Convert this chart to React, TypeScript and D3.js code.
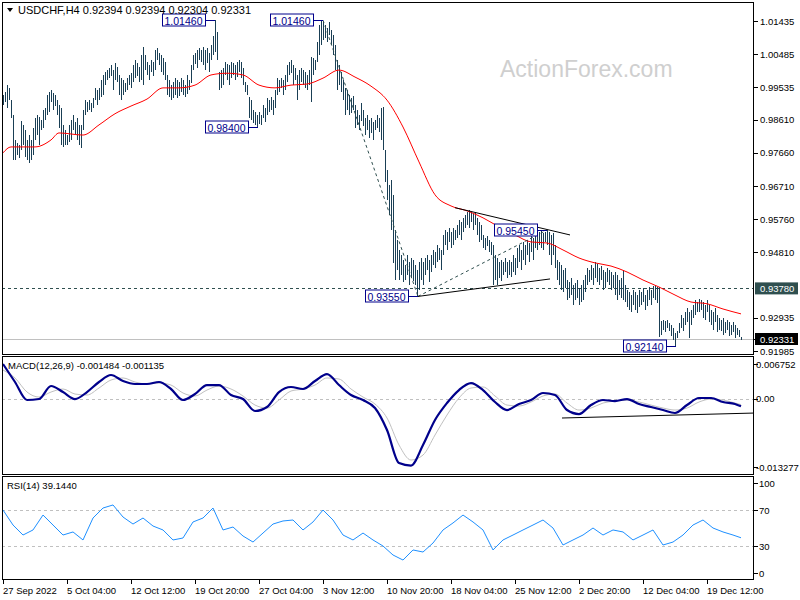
import React from "react";
import * as d3 from "d3";

// ---------- DATA ----------
const symbolTitle = "USDCHF,H4";
const lastOHLC = [0.92394, 0.92394, 0.92304, 0.92331];

// H4 bar highs / lows (370 bars, oldest first)
const highs = [
  0.9932, 0.9940, 0.9960, 0.9952, 0.9917, 0.9875, 0.9803, 0.9795, 0.9789, 0.9857,
  0.9846, 0.9832, 0.9803, 0.9817, 0.9803, 0.9838, 0.9866, 0.9875, 0.9869, 0.9860,
  0.9889, 0.9894, 0.9932, 0.9940, 0.9946, 0.9937, 0.9932, 0.9917, 0.9903, 0.9894,
  0.9846, 0.9832, 0.9817, 0.9846, 0.9860, 0.9875, 0.9855, 0.9866, 0.9846, 0.9846,
  0.9889, 0.9917, 0.9911, 0.9917, 0.9909, 0.9923, 0.9952, 0.9946, 0.9952, 0.9975,
  0.9989, 0.9997, 1.0003, 1.0009, 1.0018, 1.0003, 1.0023, 1.0012, 0.9989, 0.9980,
  0.9975, 0.9966, 0.9980, 0.9989, 0.9994, 1.0018, 1.0032, 1.0023, 1.0012, 1.0046,
  1.0069, 1.0046, 1.0026, 1.0018, 1.0032, 1.0026, 1.0061, 1.0066, 1.0052, 1.0046,
  1.0038, 1.0026, 0.9989, 0.9975, 0.9960, 0.9969, 0.9980, 0.9975, 0.9969, 0.9980,
  0.9975, 0.9960, 0.9989, 0.9975, 1.0018, 1.0046, 1.0052, 1.0061, 1.0066, 1.0061,
  1.0069, 1.0061, 1.0066, 1.0052, 1.0075, 1.0100, 1.0146, 1.0112, 0.9997, 1.0003,
  1.0009, 1.0026, 1.0021, 1.0018, 1.0026, 1.0023, 1.0018, 1.0026, 1.0032, 1.0026,
  1.0009, 0.9969, 0.9960, 0.9926, 0.9917, 0.9889, 0.9883, 0.9875, 0.9883, 0.9875,
  0.9903, 0.9894, 0.9923, 0.9917, 0.9926, 0.9917, 0.9946, 0.9980, 0.9975, 0.9980,
  0.9975, 0.9989, 1.0018, 1.0026, 1.0032, 1.0018, 1.0009, 0.9989, 1.0003, 1.0009,
  1.0003, 0.9997, 0.9989, 1.0003, 1.0040, 1.0038, 1.0032, 1.0083, 1.0132, 1.0146,
  1.0140, 1.0132, 1.0123, 1.0140, 1.0118, 1.0103, 1.0075, 1.0032, 1.0018, 0.9997,
  0.9975, 0.9952, 0.9946, 0.9932, 0.9923, 0.9929, 0.9903, 0.9889, 0.9875, 0.9909,
  0.9889, 0.9866, 0.9875, 0.9860, 0.9866, 0.9855, 0.9860, 0.9875, 0.9866, 0.9894,
  0.9897, 0.9774, 0.9717, 0.9674, 0.9688, 0.9646, 0.9545, 0.9517, 0.9488, 0.9474,
  0.9460, 0.9445, 0.9474, 0.9454, 0.9465, 0.9460, 0.9445, 0.9431, 0.9454, 0.9465,
  0.9454, 0.9465, 0.9474, 0.9460, 0.9474, 0.9488, 0.9482, 0.9502, 0.9494, 0.9488,
  0.9531, 0.9545, 0.9540, 0.9551, 0.9540, 0.9551, 0.9545, 0.9560, 0.9574, 0.9568,
  0.9580, 0.9588, 0.9597, 0.9603, 0.9597, 0.9591, 0.9597, 0.9580, 0.9568, 0.9560,
  0.9531, 0.9523, 0.9528, 0.9517, 0.9511, 0.9502, 0.9474, 0.9465, 0.9454, 0.9460,
  0.9454, 0.9465, 0.9454, 0.9460, 0.9454, 0.9474, 0.9465, 0.9494, 0.9502, 0.9488,
  0.9511, 0.9502, 0.9517, 0.9508, 0.9531, 0.9523, 0.9540, 0.9531, 0.9540, 0.9545,
  0.9537, 0.9540, 0.9545, 0.9540, 0.9531, 0.9537, 0.9502, 0.9460, 0.9454, 0.9445,
  0.9431, 0.9437, 0.9402, 0.9396, 0.9408, 0.9388, 0.9394, 0.9402, 0.9380, 0.9388,
  0.9402, 0.9417, 0.9437, 0.9431, 0.9445, 0.9437, 0.9454, 0.9448, 0.9437, 0.9442,
  0.9431, 0.9425, 0.9437, 0.9431, 0.9425, 0.9417, 0.9425, 0.9417, 0.9402, 0.9408,
  0.9431, 0.9388, 0.9374, 0.9368, 0.9359, 0.9374, 0.9368, 0.9359, 0.9374, 0.9368,
  0.9380, 0.9359, 0.9374, 0.9382, 0.9374, 0.9385, 0.9388, 0.9382, 0.9382, 0.9285,
  0.9288, 0.9285, 0.9288, 0.9279, 0.9273, 0.9265, 0.9251, 0.9256, 0.9279, 0.9302,
  0.9293, 0.9311, 0.9322, 0.9311, 0.9316, 0.9331, 0.9345, 0.9339, 0.9348, 0.9345,
  0.9339, 0.9331, 0.9345, 0.9331, 0.9316, 0.9311, 0.9322, 0.9302, 0.9293, 0.9288,
  0.9293, 0.9282, 0.9288, 0.9282, 0.9273, 0.9282, 0.9273, 0.9265, 0.9259, 0.9239,
];
const lows = [
  0.9903, 0.9911, 0.9895, 0.9917, 0.9866, 0.9746, 0.9746, 0.9760, 0.9752, 0.9774,
  0.9789, 0.9755, 0.9746, 0.9737, 0.9746, 0.9760, 0.9803, 0.9817, 0.9789, 0.9832,
  0.9838, 0.9860, 0.9875, 0.9883, 0.9911, 0.9889, 0.9900, 0.9875, 0.9838, 0.9789,
  0.9783, 0.9789, 0.9789, 0.9797, 0.9803, 0.9832, 0.9817, 0.9803, 0.9789, 0.9780,
  0.9832, 0.9875, 0.9883, 0.9889, 0.9883, 0.9894, 0.9917, 0.9903, 0.9917, 0.9926,
  0.9932, 0.9960, 0.9975, 0.9980, 0.9986, 0.9946, 0.9975, 0.9969, 0.9932, 0.9917,
  0.9932, 0.9940, 0.9946, 0.9960, 0.9952, 0.9969, 0.9980, 0.9986, 0.9969, 0.9975,
  0.9960, 1.0003, 0.9989, 0.9975, 0.9997, 0.9986, 1.0003, 1.0032, 1.0018, 0.9997,
  0.9989, 0.9975, 0.9932, 0.9926, 0.9917, 0.9923, 0.9932, 0.9923, 0.9929, 0.9940,
  0.9932, 0.9926, 0.9935, 0.9946, 0.9966, 1.0003, 1.0020, 1.0009, 1.0032, 1.0026,
  1.0018, 1.0003, 1.0023, 0.9997, 1.0032, 1.0046, 1.0055, 1.0032, 0.9946, 0.9952,
  0.9960, 0.9989, 0.9975, 0.9960, 0.9980, 0.9989, 0.9975, 0.9983, 0.9997, 0.9980,
  0.9960, 0.9940, 0.9932, 0.9866, 0.9860, 0.9852, 0.9846, 0.9840, 0.9849, 0.9846,
  0.9866, 0.9855, 0.9875, 0.9883, 0.9889, 0.9875, 0.9894, 0.9932, 0.9940, 0.9952,
  0.9932, 0.9946, 0.9969, 0.9989, 0.9994, 0.9960, 0.9975, 0.9917, 0.9946, 0.9969,
  0.9960, 0.9952, 0.9946, 0.9960, 0.9912, 0.9989, 1.0003, 1.0026, 1.0046, 1.0075,
  1.0089, 1.0095, 1.0083, 1.0103, 1.0075, 1.0046, 1.0003, 0.9946, 0.9960, 0.9940,
  0.9917, 0.9875, 0.9889, 0.9875, 0.9880, 0.9889, 0.9838, 0.9846, 0.9832, 0.9857,
  0.9843, 0.9817, 0.9832, 0.9809, 0.9823, 0.9803, 0.9832, 0.9838, 0.9826, 0.9803,
  0.9774, 0.9683, 0.9631, 0.9588, 0.9545, 0.9451, 0.9402, 0.9431, 0.9402, 0.9417,
  0.9396, 0.9402, 0.9417, 0.9388, 0.9408, 0.9399, 0.9388, 0.9355, 0.9374, 0.9402,
  0.9388, 0.9417, 0.9431, 0.9396, 0.9425, 0.9445, 0.9437, 0.9454, 0.9460, 0.9431,
  0.9474, 0.9502, 0.9488, 0.9511, 0.9494, 0.9502, 0.9517, 0.9523, 0.9531, 0.9517,
  0.9540, 0.9551, 0.9560, 0.9551, 0.9568, 0.9545, 0.9560, 0.9531, 0.9511, 0.9517,
  0.9494, 0.9488, 0.9500, 0.9482, 0.9474, 0.9388, 0.9402, 0.9388, 0.9408, 0.9399,
  0.9417, 0.9425, 0.9408, 0.9417, 0.9411, 0.9425, 0.9417, 0.9437, 0.9454, 0.9431,
  0.9460, 0.9445, 0.9474, 0.9454, 0.9482, 0.9460, 0.9494, 0.9488, 0.9502, 0.9494,
  0.9488, 0.9511, 0.9502, 0.9474, 0.9445, 0.9474, 0.9437, 0.9402, 0.9388, 0.9374,
  0.9368, 0.9380, 0.9345, 0.9351, 0.9359, 0.9331, 0.9345, 0.9351, 0.9331, 0.9339,
  0.9345, 0.9368, 0.9388, 0.9396, 0.9402, 0.9388, 0.9408, 0.9396, 0.9388, 0.9402,
  0.9374, 0.9380, 0.9396, 0.9388, 0.9374, 0.9380, 0.9359, 0.9345, 0.9359, 0.9351,
  0.9345, 0.9339, 0.9325, 0.9316, 0.9311, 0.9331, 0.9316, 0.9308, 0.9325, 0.9331,
  0.9339, 0.9316, 0.9328, 0.9345, 0.9331, 0.9351, 0.9345, 0.9336, 0.9239, 0.9245,
  0.9259, 0.9253, 0.9265, 0.9256, 0.9242, 0.9230, 0.9214, 0.9236, 0.9250, 0.9265,
  0.9256, 0.9273, 0.9282, 0.9236, 0.9273, 0.9293, 0.9302, 0.9311, 0.9311, 0.9316,
  0.9293, 0.9288, 0.9311, 0.9282, 0.9273, 0.9259, 0.9282, 0.9253, 0.9259, 0.9256,
  0.9245, 0.9250, 0.9259, 0.9242, 0.9245, 0.9253, 0.9236, 0.9245, 0.9239, 0.9230,
];

// moving average (red), read at these bar indices
const maIdx = [0, 4, 16, 24, 28, 40, 48, 56, 64, 72, 80, 88, 96, 104, 112, 120, 128, 136, 144, 152, 160, 168, 176, 184, 192, 200, 208, 216, 224, 232, 240, 248, 256, 264, 272, 280, 288, 296, 304, 312, 320, 328, 336, 344, 352, 360, 369];
const maVals = [0.9766, 0.9783, 0.9783, 0.9803, 0.9823, 0.9817, 0.9846, 0.9878, 0.9900, 0.9920, 0.9952, 0.9952, 0.9960, 0.9989, 0.9994, 0.9989, 0.9960, 0.9952, 0.9960, 0.9963, 0.9980, 1.0003, 0.9983, 0.9957, 0.9917, 0.9840, 0.9740, 0.9646, 0.9614, 0.9600, 0.9580, 0.9554, 0.9531, 0.9511, 0.9508, 0.9488, 0.9465, 0.9451, 0.9442, 0.9425, 0.9402, 0.9382, 0.9359, 0.9339, 0.9334, 0.9319, 0.9305];

// MACD(12,26,9), read every 6 bars + last bar
const macdIdx = [...d3.range(0, 367, 6), 369];
const macdMain = [
  0.00675, 0.00325, -0.00025, -0.00006, 0.00247, 0.00130, -0.00006, 0.00130, 0.00325, 0.00461,
  0.00344, 0.00286, 0.00286, 0.00325, 0.00189, -0.00025, 0.00091, 0.00266, 0.00266, 0.00072,
  -0.00006, -0.00239, -0.00161, 0.00130, 0.00228, 0.00189, 0.00344, 0.00480, 0.00266, 0.00072,
  -0.00025, -0.00181, -0.00609, -0.01250, -0.01300, -0.00900, -0.00414, -0.00084, 0.00169, 0.00305,
  0.00169, -0.00064, -0.00220, -0.00103, -0.00025, 0.00111, 0.00072, -0.00220, -0.00298, -0.00123,
  -0.00025, -0.00045, -0.00006, -0.00103, -0.00161, -0.00220, -0.00278, -0.00123, 0.00014, 0.00014,
  -0.00064, -0.00103, -0.001484,
];
const macdSignal = [
  0.00558, 0.00403, 0.00130, 0.00033, 0.00130, 0.00189, 0.00091, 0.00072, 0.00208, 0.00364,
  0.00403, 0.00325, 0.00286, 0.00305, 0.00266, 0.00111, 0.00053, 0.00169, 0.00247, 0.00189,
  0.00053, -0.00123, -0.00181, -0.00025, 0.00150, 0.00189, 0.00266, 0.00403, 0.00383, 0.00189,
  0.00033, -0.00103, -0.00375, -0.00900, -0.01192, -0.01095, -0.00706, -0.00317, 0.00014, 0.00208,
  0.00228, 0.00053, -0.00123, -0.00142, -0.00064, 0.00053, 0.00091, -0.00084, -0.00220, -0.00181,
  -0.00084, -0.00045, -0.00025, -0.00064, -0.00123, -0.00181, -0.00220, -0.00181, -0.00064, -0.00006,
  -0.00025, -0.00084, -0.001135,
];
const macdMax = 0.006752;
const macdMin = -0.013277;

// RSI(14), read every 5 bars + last bar
const rsiIdx = [...d3.range(0, 370, 5), 369];
const rsiVals = [
  70.0, 53.3, 42.2, 47.8, 64.4, 53.3, 42.2, 45.6, 36.7, 61.1,
  72.2, 75.6, 62.2, 54.4, 61.1, 52.2, 47.8, 36.7, 38.9, 56.7,
  61.1, 72.2, 47.8, 51.1, 41.1, 34.4, 44.4, 54.4, 57.8, 58.9,
  47.8, 56.7, 70.0, 58.9, 42.2, 36.7, 44.4, 36.7, 30.0, 20.0,
  14.4, 25.6, 23.3, 33.3, 47.8, 55.6, 64.4, 56.7, 47.8, 25.6,
  36.7, 42.2, 47.8, 53.3, 58.9, 50.0, 31.1, 36.7, 42.2, 50.0,
  42.2, 47.8, 45.6, 36.7, 42.2, 47.8, 31.1, 34.4, 42.2, 53.3,
  58.9, 50.0, 45.6, 42.2, 39.144,
];
const rsiLevels = [70, 30];
const rsiAxis = [100, 70, 30, 0];

// axes
const priceTicks = [1.01435, 1.00485, 0.99535, 0.98610, 0.97660, 0.96710, 0.95760, 0.94810, 0.92935, 0.91985];
const xTickIdx = [0, 32, 64, 96, 128, 160, 192, 224, 256, 288, 320, 352];
const xTickLabels = ["27 Sep 2022", "5 Oct 04:00", "12 Oct 12:00", "19 Oct 20:00", "27 Oct 04:00", "3 Nov 12:00", "10 Nov 20:00", "18 Nov 04:00", "25 Nov 12:00", "2 Dec 20:00", "12 Dec 04:00", "19 Dec 12:00"];

// levels & annotations
const levelPrice = 0.9378;
const bidPrice = 0.92331;
const swingIdx = [106, 160, 127.5, 207.5, 272, 336.5];
const swingPrice = [1.0146, 1.0146, 0.9840, 0.9355, 0.9545, 0.9214];
const triUpper: [number, number][] = [[226, 0.9609], [283.5, 0.9531]];
const triLower: [number, number][] = [[207.5, 0.9355], [273.5, 0.9405]];
const dashDown: [number, number][] = [[160, 1.0146], [207.5, 0.9355]];
const dashUp: [number, number][] = [[207.5, 0.9355], [272, 0.9545]];
const macdTrend: [number, number][] = [[279.5, -0.00375], [376, -0.00278]];

// ---------- CHART ----------
const FONT = "'Liberation Sans', Arial, sans-serif";
const L = 2, R = 754;
const MAIN = [2, 354];
const MACD = [356, 474];
const RSIP = [476, 579];

export default function App() {
  const x = d3.scaleLinear().domain([0, 369]).range([3, 741]);
  const yP = d3.scaleLinear().domain([0.92331, 1.01435]).range([339, 21]);
  const yM = d3.scaleLinear().domain([macdMin, macdMax]).range([467, 364]);
  const yR = d3.scaleLinear().domain([0, 100]).range([573, 483]);

  const maLine = d3.line<number>().x((_, k) => x(maIdx[k])).y((v) => yP(v)).curve(d3.curveMonotoneX)(maVals) || "";
  const mMain = d3.line<number>().x((_, k) => x(macdIdx[k])).y((v) => yM(v)).curve(d3.curveMonotoneX)(macdMain) || "";
  const mSig = d3.line<number>().x((_, k) => x(macdIdx[k])).y((v) => yM(v)).curve(d3.curveMonotoneX)(macdSignal) || "";
  const rsiLine = d3.line<number>().x((_, k) => x(rsiIdx[k])).y((v) => yR(v))(rsiVals) || "";
  const seg = (pts: [number, number][], ys: (v: number) => number) =>
    d3.line<[number, number]>().x((p) => x(p[0])).y((p) => ys(p[1]))(pts) || "";

  const barColor = "#1a3f55";
  const navy = "#00008b";
  const axisFs = 9.5;

  return (
    <svg width={800} height={600} style={{ position: "absolute", left: 0, top: 0, background: "#fff" }} fontFamily={FONT}>
      <defs>
        <clipPath id="cMain"><rect x={L} y={MAIN[0]} width={R - L} height={MAIN[1] - MAIN[0]} /></clipPath>
        <clipPath id="cMacd"><rect x={L} y={MACD[0]} width={R - L} height={MACD[1] - MACD[0]} /></clipPath>
        <clipPath id="cRsi"><rect x={L} y={RSIP[0]} width={R - L} height={RSIP[1] - RSIP[0]} /></clipPath>
      </defs>
      <rect x={0} y={0} width={800} height={600} fill="#fff" />

      {/* ---- main panel ---- */}
      <text x={500} y={77} fontSize={23} fill="#cfcfcf">ActionForex.com</text>
      <g clipPath="url(#cMain)">
        <line x1={L} x2={R} y1={Math.round(yP(levelPrice)) + 0.5} y2={Math.round(yP(levelPrice)) + 0.5} stroke="#2f4f4f" strokeDasharray="3,3" />
        <line x1={L} x2={R} y1={Math.round(yP(bidPrice)) + 0.5} y2={Math.round(yP(bidPrice)) + 0.5} stroke="#c0c0c0" />
        {highs.map((h, i) => {
          const y1 = Math.round(yP(h));
          const y2 = Math.max(Math.round(yP(lows[i])), y1 + 1);
          return <line key={i} x1={x(i) + 0.5} x2={x(i) + 0.5} y1={y1} y2={y2} stroke={barColor} strokeWidth={1} shapeRendering="crispEdges" />;
        })}
        <path d={maLine} fill="none" stroke="#ff0000" strokeWidth={1} />
        <path d={seg(dashDown, yP)} fill="none" stroke="#2f4f4f" strokeDasharray="3,3" />
        <path d={seg(dashUp, yP)} fill="none" stroke="#2f4f4f" strokeDasharray="3,3" />
        <path d={seg(triUpper, yP)} fill="none" stroke="#000" />
        <path d={seg(triLower, yP)} fill="none" stroke="#000" />
        {swingIdx.map((si, k) => {
          const bx = x(si);
          const by = Math.round(yP(swingPrice[k])) + 0.5;
          const right = bx - 10;
          return (
            <g key={k}>
              <line x1={right} x2={bx} y1={by} y2={by} stroke={navy} />
              <rect x={Math.round(right - 43) + 0.5} y={Math.round(by - 6.5)} width={43} height={12} fill="#fff" stroke={navy} />
              <text x={right - 21.5} y={by + 4} fontSize={10.5} fill={navy} textAnchor="middle">{swingPrice[k].toFixed(5)}</text>
            </g>
          );
        })}
      </g>
      <rect x={L + 0.5} y={MAIN[0] + 0.5} width={R - L - 1} height={MAIN[1] - MAIN[0]} fill="none" stroke="#000" />
      <path d="M7,8 L13,8 L10,12 Z" fill="#000" />
      <text x={18} y={14} fontSize={11} fill="#000">{symbolTitle + " " + lastOHLC.map((v) => v.toFixed(5)).join(" ")}</text>

      {/* price axis */}
      {priceTicks.map((p) => (
        <g key={p}>
          <line x1={R} x2={R + 4} y1={Math.round(yP(p)) + 0.5} y2={Math.round(yP(p)) + 0.5} stroke="#000" />
          <text x={760} y={yP(p) + 3.5} fontSize={axisFs} fill="#000">{p.toFixed(5)}</text>
        </g>
      ))}
      <rect x={755} y={yP(levelPrice) - 6} width={43} height={12} fill="#2f4f4f" />
      <text x={760} y={yP(levelPrice) + 3.5} fontSize={axisFs} fill="#fff">{levelPrice.toFixed(5)}</text>
      <line x1={R} x2={R + 4} y1={Math.round(yP(bidPrice)) + 0.5} y2={Math.round(yP(bidPrice)) + 0.5} stroke="#000" />
      <rect x={755} y={yP(bidPrice) - 6} width={43} height={12} fill="#000" />
      <text x={760} y={yP(bidPrice) + 3.5} fontSize={axisFs} fill="#fff">{bidPrice.toFixed(5)}</text>

      {/* ---- MACD panel ---- */}
      <g clipPath="url(#cMacd)">
        <line x1={L} x2={R} y1={Math.round(yM(0)) + 0.5} y2={Math.round(yM(0)) + 0.5} stroke="#c0c0c0" strokeDasharray="3,3" />
        <path d={mSig} fill="none" stroke="#c0c0c0" strokeWidth={1} />
        <path d={mMain} fill="none" stroke={navy} strokeWidth={2.2} />
        <path d={seg(macdTrend, yM)} fill="none" stroke="#000" />
      </g>
      <rect x={L + 0.5} y={MACD[0] + 0.5} width={R - L - 1} height={MACD[1] - MACD[0]} fill="none" stroke="#000" />
      <text x={8} y={369} fontSize={9.5} fill="#000">{`MACD(12,26,9) ${macdMain[macdMain.length - 1].toFixed(6)} ${macdSignal[macdSignal.length - 1].toFixed(6)}`}</text>
      {[macdMax, 0, macdMin].map((v) => (
        <g key={v}>
          <line x1={R} x2={R + 4} y1={Math.round(yM(v)) + 0.5} y2={Math.round(yM(v)) + 0.5} stroke="#000" />
          <text x={756} y={yM(v) + 3.5} fontSize={axisFs} fill="#000">{v === 0 ? "0.00" : v.toFixed(6)}</text>
        </g>
      ))}

      {/* ---- RSI panel ---- */}
      <g clipPath="url(#cRsi)">
        {rsiLevels.map((lv) => (
          <line key={lv} x1={L} x2={R} y1={Math.round(yR(lv)) + 0.5} y2={Math.round(yR(lv)) + 0.5} stroke="#c0c0c0" strokeDasharray="3,3" />
        ))}
        <path d={rsiLine} fill="none" stroke="#1e90ff" strokeWidth={1} />
      </g>
      <rect x={L + 0.5} y={RSIP[0] + 0.5} width={R - L - 1} height={RSIP[1] - RSIP[0]} fill="none" stroke="#000" />
      <text x={7} y={489} fontSize={9.5} fill="#000">{`RSI(14) ${rsiVals[rsiVals.length - 1].toFixed(4)}`}</text>
      {rsiAxis.map((v) => (
        <g key={v}>
          <line x1={R} x2={R + 4} y1={Math.round(yR(v)) + 0.5} y2={Math.round(yR(v)) + 0.5} stroke="#000" />
          <text x={759} y={yR(v) + 3.5} fontSize={axisFs} fill="#000">{v}</text>
        </g>
      ))}

      {/* ---- time axis ---- */}
      {xTickIdx.map((ti, k) => (
        <g key={ti}>
          <line x1={x(ti) + 0.5} x2={x(ti) + 0.5} y1={RSIP[1]} y2={RSIP[1] + 5} stroke="#000" />
          <text x={x(ti)} y={594} fontSize={9.5} fill="#000">{xTickLabels[k]}</text>
        </g>
      ))}
    </svg>
  );
}
